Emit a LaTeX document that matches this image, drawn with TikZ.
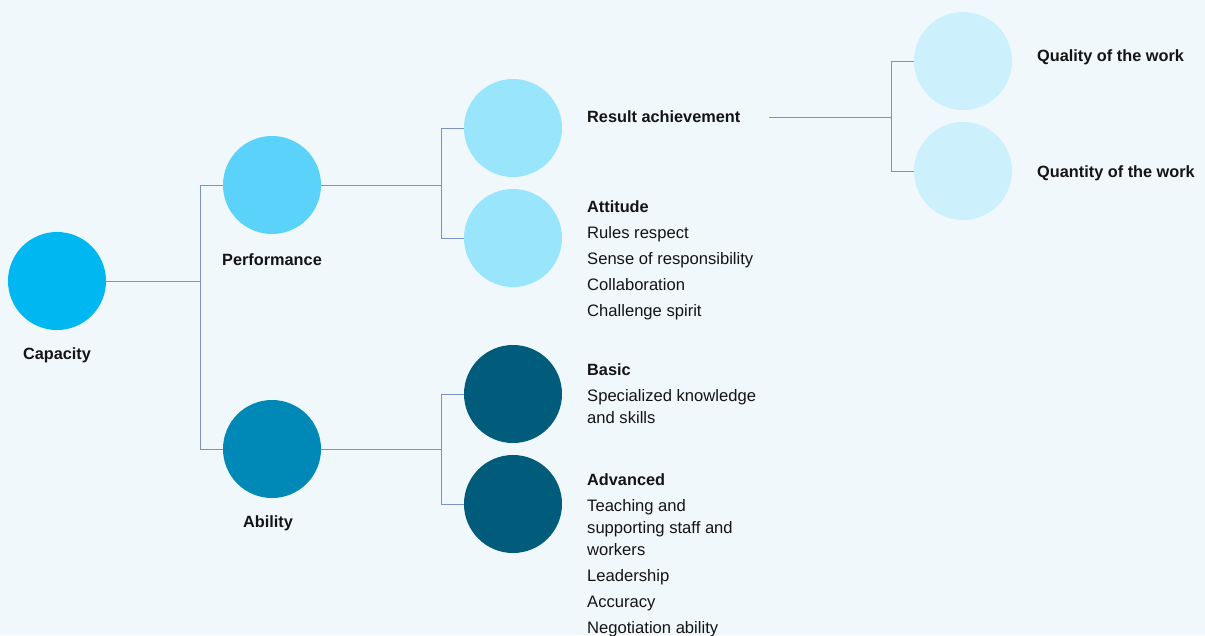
\documentclass[tikz,border=0pt]{standalone}
\usepackage{fontspec}
\setmainfont{Liberation Sans}
\usetikzlibrary{positioning}
\usepackage{xcolor}

\definecolor{bgpale}{RGB}{240,248,252}
\definecolor{capblue}{RGB}{0,183,241}
\definecolor{perfblue}{RGB}{90,210,250}
\definecolor{abilblue}{RGB}{0,137,182}
\definecolor{paleblue}{RGB}{152,229,252}
\definecolor{deepteal}{RGB}{0,92,122}
\definecolor{icyblue}{RGB}{204,240,252}
\definecolor{linkblue}{RGB}{125,145,195}
\definecolor{inkdark}{RGB}{20,20,20}

\begin{document}
\begin{tikzpicture}[
        x=1pt, y=1pt,
        every node/.style={font=\fontsize{16.6}{26}\selectfont, text=inkdark},
        disc/.style={
            circle,
            minimum size=98pt,
            inner sep=0pt
        },
        caption/.style={
            font=\fontsize{16.3}{26}\selectfont\bfseries,
            inner sep=0pt
        },
        listing/.style={
            align=left,
            inner sep=0pt,
            anchor=base west
        },
        link/.style={
            draw=linkblue,
            line width=1pt
        }
    ]

    % Background and frame
    \fill[bgpale] (0,0) rectangle (1205,-635);
    \useasboundingbox (0,0) rectangle (1205,-635);

    % Root
    \node[disc, fill=capblue] (capacity) at (57,-281) {};
    \node[caption, below=17pt of capacity] (capacity-lbl) {Capacity};

    % Second level
    \node[disc, fill=perfblue] (performance) at (272,-185) {};
    \node[caption, below=19pt of performance] (performance-lbl) {Performance};

    \node[disc, fill=abilblue] (ability) at (272,-449) {};
    \node[caption, below=17pt of ability, xshift=-4pt] (ability-lbl) {Ability};

    % Third level
    \node[disc, fill=paleblue] (result) at (513,-128) {};
    \node[disc, fill=paleblue] (attitude) at (513,-238) {};
    \node[disc, fill=deepteal] (basic) at (513,-394) {};
    \node[disc, fill=deepteal] (advanced) at (513,-504) {};

    % Fourth level
    \node[disc, fill=icyblue] (quality) at (963,-61) {};
    \node[disc, fill=icyblue] (quantity) at (963,-171) {};

    % Texts beside the circles (placed by the baseline of their last line)
    \node[caption, anchor=base west] (result-txt) at (587,-122)
        {Result achievement};

    \node[listing] (attitude-txt) at (587,-316)
        {\textbf{\fontsize{16.3}{26}\selectfont Attitude}\\
         Rules respect\\
         Sense of responsibility\\
         Collaboration\\
         Challenge spirit};

    \node[listing] (basic-txt) at (587,-423)
        {\textbf{\fontsize{16.3}{26}\selectfont Basic}\\
         Specialized knowledge\\[-4pt]
         and skills};

    \node[listing] (advanced-txt) at (587,-633)
        {\textbf{\fontsize{16.3}{26}\selectfont Advanced}\\
         Teaching and\\[-4pt]
         supporting staff and\\[-4pt]
         workers\\
         Leadership\\
         Accuracy\\
         Negotiation ability};

    \node[caption, anchor=base west] (quality-txt) at (1037,-61)
        {Quality of the work};
    \node[caption, anchor=base west] (quantity-txt) at (1037,-177)
        {Quantity of the work};

    % Connectors from the root
    \coordinate (capfork) at (200,-281);
    \draw[link] (capacity.east) -- (capfork);
    \draw[link] (capfork) |- (performance.west);
    \draw[link] (capfork) |- (ability.west);

    % Performance branches
    \coordinate (perffork) at (441,-185);
    \draw[link] (performance.east) -- (perffork);
    \draw[link] (perffork) |- (result.west);
    \draw[link] (perffork) |- (attitude.west);

    % Ability branches
    \coordinate (abilfork) at (441,-449);
    \draw[link] (ability.east) -- (abilfork);
    \draw[link] (abilfork) |- (basic.west);
    \draw[link] (abilfork) |- (advanced.west);

    % Result achievement branches
    \coordinate (workfork) at (891,-117);
    \draw[link] ([xshift=28pt]result-txt.east |- workfork) -- (workfork);
    \draw[link] (workfork) |- (quality.west);
    \draw[link] (workfork) |- (quantity.west);

\end{tikzpicture}
\end{document}
